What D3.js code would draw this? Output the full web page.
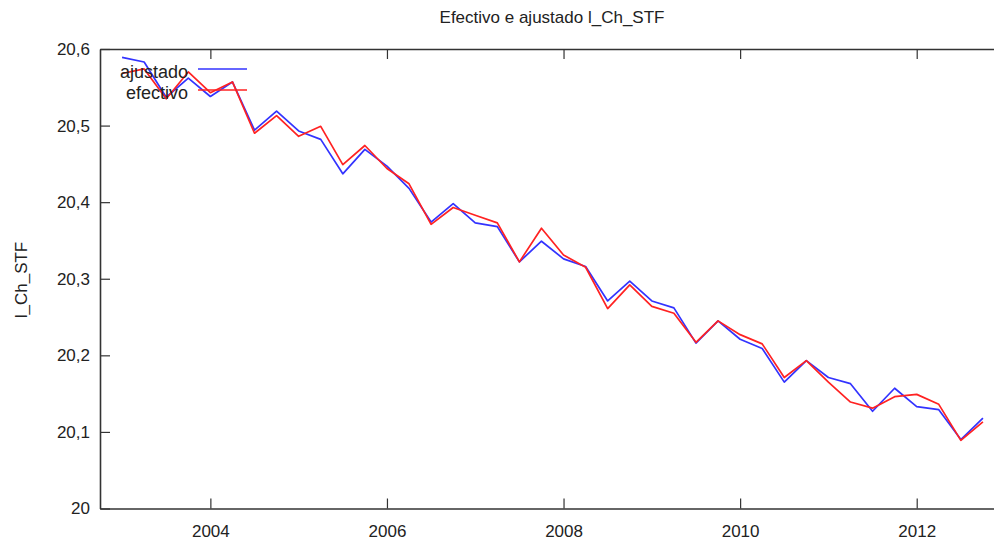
<!DOCTYPE html>
<html>
<head>
<meta charset="utf-8">
<script src="https://cdn.jsdelivr.net/npm/d3@7"></script>
<style>
  body { margin: 0; background: #fff; }
  svg { font-family: "Liberation Sans", Arial, sans-serif; }
</style>
</head>
<body>
<svg id="chart" width="994" height="540"></svg>
<script>
// trimestres 2003Q1 .. 2012Q4
const periodos = [
  "2003Q1","2003Q2","2003Q3","2003Q4","2004Q1","2004Q2","2004Q3","2004Q4",
  "2005Q1","2005Q2","2005Q3","2005Q4","2006Q1","2006Q2","2006Q3","2006Q4",
  "2007Q1","2007Q2","2007Q3","2007Q4","2008Q1","2008Q2","2008Q3","2008Q4",
  "2009Q1","2009Q2","2009Q3","2009Q4","2010Q1","2010Q2","2010Q3","2010Q4",
  "2011Q1","2011Q2","2011Q3","2011Q4","2012Q1","2012Q2","2012Q3","2012Q4"
];
const ajustado = [
  20.589, 20.583, 20.537, 20.562, 20.538, 20.557, 20.494, 20.519,
  20.493, 20.482, 20.437, 20.469, 20.447, 20.418, 20.374, 20.398,
  20.373, 20.368, 20.322, 20.349, 20.326, 20.316, 20.271, 20.297,
  20.271, 20.262, 20.216, 20.245, 20.221, 20.209, 20.165, 20.193,
  20.171, 20.163, 20.127, 20.157, 20.133, 20.129, 20.090, 20.118
];
const efectivo = [
  20.568, 20.574, 20.535, 20.570, 20.543, 20.557, 20.490, 20.513,
  20.486, 20.499, 20.449, 20.474, 20.444, 20.424, 20.371, 20.393,
  20.383, 20.373, 20.322, 20.366, 20.331, 20.315, 20.261, 20.292,
  20.264, 20.255, 20.217, 20.245, 20.227, 20.215, 20.171, 20.193,
  20.165, 20.139, 20.131, 20.146, 20.149, 20.136, 20.089, 20.113
];
const xTicks = [2004, 2006, 2008, 2010, 2012];
const yTicks = [20, 20.1, 20.2, 20.3, 20.4, 20.5, 20.6];

const svg = d3.select("#chart");
const mLeft = 100, mRight = 1005, mTop = 49, mBottom = 508.5;

// año decimal de cada trimestre
const toYear = p => +p.slice(0, 4) + (+p.slice(5) - 1) / 4;

const x = d3.scaleLinear().domain([2002.75, 2013]).range([mLeft, mRight]);
const y = d3.scaleLinear().domain([20, 20.6]).range([mBottom, mTop]);

const es = d3.formatLocale({ decimal: ",", thousands: ".", grouping: [3], currency: ["", ""] });
const fmt = es.format(".3~");

const axisColor = "#333";

// ejes (ticks hacia dentro)
const gLeft = svg.append("g").attr("transform", `translate(${mLeft},0)`)
  .call(d3.axisLeft(y).tickValues(yTicks).tickFormat(fmt).tickSizeInner(-10).tickSizeOuter(0).tickPadding(10));
const gBottom = svg.append("g").attr("transform", `translate(0,${mBottom})`)
  .call(d3.axisBottom(x).tickValues(xTicks).tickFormat(d3.format("d")).tickSizeInner(-10).tickSizeOuter(0).tickPadding(16));
const gTop = svg.append("g").attr("transform", `translate(0,${mTop})`)
  .call(d3.axisTop(x).tickValues(xTicks).tickFormat("").tickSizeInner(-10).tickSizeOuter(0));

[gLeft, gBottom, gTop].forEach(g => {
  g.select(".domain").attr("stroke", axisColor).attr("stroke-width", 1.6);
  g.selectAll(".tick line").attr("stroke", axisColor).attr("stroke-width", 1.2);
  g.selectAll(".tick text").attr("fill", "#222").style("font-size", "17px").style("font-family", null);
});

// titulo y etiqueta del eje
svg.append("text").attr("x", 552).attr("y", 23).attr("text-anchor", "middle")
  .style("font-size", "17px").attr("fill", "#222").text("Efectivo e ajustado l_Ch_STF");
svg.append("text").attr("transform", "translate(27,280) rotate(-90)").attr("text-anchor", "middle")
  .style("font-size", "17px").attr("fill", "#222").text("l_Ch_STF");

// series
const line = d3.line().x(d => x(toYear(d.p))).y(d => y(d.v));
const series = [
  { name: "ajustado", values: ajustado, color: "#3333ff" },
  { name: "efectivo", values: efectivo, color: "#ff2222" }
];
svg.append("g").selectAll("path").data(series).join("path")
  .attr("d", s => line(periodos.map((p, i) => ({ p, v: s.values[i] }))))
  .attr("fill", "none")
  .attr("stroke", s => s.color)
  .attr("stroke-width", 1.7)
  .attr("stroke-linejoin", "round");

// leyenda
const legend = svg.append("g").selectAll("g").data(series).join("g")
  .attr("transform", (d, i) => `translate(0,${69 + i * 21})`);
legend.append("text").attr("x", 188).attr("y", 0).attr("dy", "0.5em")
  .attr("text-anchor", "end").style("font-size", "18px").attr("fill", "#222").text(d => d.name);
legend.append("line").attr("x1", 198).attr("x2", 247).attr("y1", 0).attr("y2", 0)
  .attr("stroke", d => d.color).attr("stroke-width", 1.7);
</script>
</body>
</html>
